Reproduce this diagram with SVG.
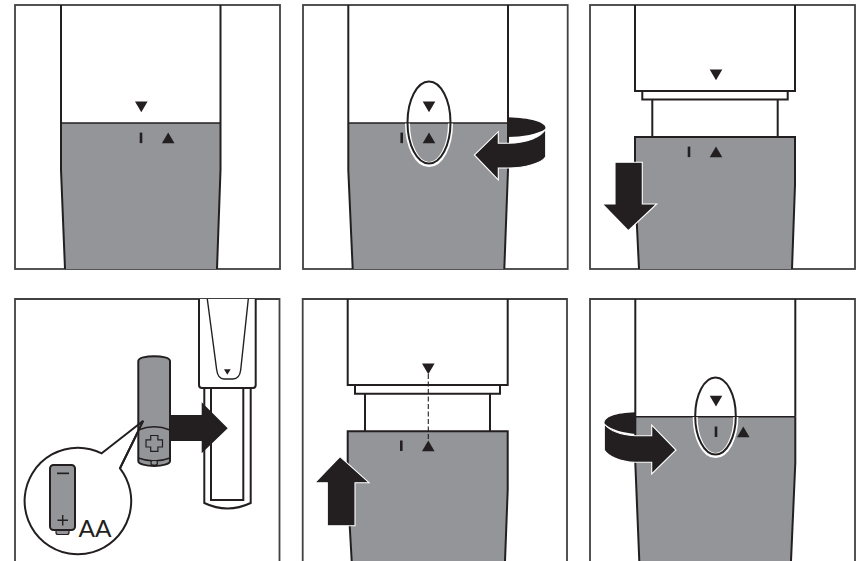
<svg xmlns="http://www.w3.org/2000/svg" width="866" height="561" viewBox="0 0 866 561">
<style>
.frame{fill:#fff;stroke:#414042;stroke-width:1.8}
.open{fill:none;stroke:#414042;stroke-width:1.8}
.line{fill:none;stroke:#231f20;stroke-width:2}
.thin{fill:none;stroke:#231f20;stroke-width:1.4}
.body{fill:#939598;stroke:#231f20;stroke-width:2}
.flat{fill:#939598}
.ink{fill:#231f20}
.halo{fill:#231f20;stroke:#fff;stroke-width:1.1}
.oval{fill:none;stroke:#231f20;stroke-width:2}
.ovalw{fill:none;stroke:#fff;stroke-width:5}
.aa{font-family:"Lato","Liberation Sans",sans-serif;font-size:24px;fill:#231f20}
</style>
<defs>
<polygon id="td" class="ink" points="-6.300,0 6.300,0 0,10.700"/>
<polygon id="tu" class="ink" points="-6.300,10.700 6.300,10.700 0,0"/>
<rect id="bar" class="ink" x="-1.300" y="0" width="2.600" height="10.500"/>
</defs>

<g id="panel-1">
<rect class="frame" x="15" y="5" width="265" height="264"/>
<path class="line" d="M61 5V123M220.500 5V123"/>
<path class="flat" d="M61 123H220.500V170L217 269H65L61 170Z"/>
<path class="thin" d="M61 123H220.500"/>
<path class="line" d="M61 123V170L65 269M220.500 123V170L217 269"/>
<use href="#td" x="141.300" y="101.500"/><use href="#bar" x="141" y="132.600"/><use href="#tu" x="168.200" y="132.600"/>
</g>

<g id="panel-2">
<rect class="frame" x="303" y="5" width="264.700" height="264"/>
<path class="line" d="M348.300 5V123M508 5V123"/>
<path class="flat" d="M348.300 123H508V170L504.300 269H352.700L348.300 170Z"/>
<path class="thin" d="M348.300 123H508"/>
<path class="line" d="M348.300 123V170L352.700 269M508 123V170L504.300 269"/>
<use href="#td" x="429" y="101.500"/><use href="#bar" x="401.700" y="132.600"/><use href="#tu" x="429" y="132.600"/>
<path class="ovalw" d="M407.500 123.500A21.500 41 0 0 0 450.500 123.500"/>
<ellipse class="oval" cx="429" cy="122.500" rx="21.500" ry="41"/>
</g>

<g id="panel-3">
<rect class="frame" x="590" y="5" width="265" height="264"/>
<path class="line" d="M635 5V91H642.300V99.500H787.700V91H795V5M642.300 91H787.700M652.300 99.500V137M777.700 99.500V137"/>
<path class="flat" d="M635 137H795V185L792 269H639L635 185Z"/>
<path class="line" d="M639 269L635 185V137H795V185L792 269"/>
<use href="#td" x="716" y="69.500"/><use href="#bar" x="689" y="146.600"/><use href="#tu" x="716" y="146.600"/>
</g>

<g id="panel-4">
<path class="open" d="M15 561V299H279.500V561"/>
<path class="line" d="M204.300 388V503Q227.500 514 250.700 503V388M211 388V500H243.300V388"/>
<path class="line" style="fill:#fff" d="M199 299V385Q199 388 202 388H252.700Q255.700 388 255.700 385V299"/>
<path class="thin" d="M207.300 299L216.700 370Q218 379 224 379H233Q239.500 379 240.700 370L248.300 299"/>
<polygon class="ink" points="224,369.300 230.700,369.300 227.300,374.700"/>
<polygon class="ink" points="168,415 201.700,415 201.700,402.300 227.700,428.300 201.700,453.300 201.700,441 168,441"/>
<path class="line" style="fill:#fff" d="M101.700 453.300L143.300 420.700L120 468.300A53.300 53.300 0 1 1 101.700 453.300Z"/>
<path class="body" d="M138.300 361C138.300 354.500 170 354.500 170 361V461C170 467.500 138.300 467.500 138.300 461Z"/>
<path class="thin" d="M138.300 430Q154.200 423.500 170 430M138.300 458Q154.200 464 170 458"/>
<path class="thin" style="stroke-width:1.200" d="M150.700 435.500H157.900V439.800H162.500V447H157.900V451.300H150.700V447H146V439.800H150.700Z"/>
<rect class="body" style="stroke-width:1.200" x="151" y="460.500" width="6.400" height="4.500" rx="2"/>
<path class="line" d="M120 468.300L143.300 420.700L138.300 424.600"/>
<rect class="body" style="stroke-width:1.200" x="56" y="529" width="13" height="5.500" rx="2"/>
<rect class="body" x="50" y="465" width="25" height="65" rx="3.500"/>
<rect class="ink" x="57" y="472.500" width="12" height="1.700"/>
<path class="thin" d="M62.700 515V525.500M57.500 520.200H68"/>
<text class="aa" x="78.500" y="536.500" textLength="33" lengthAdjust="spacingAndGlyphs">AA</text>
</g>

<g id="panel-5">
<path class="open" d="M302.700 561V299H567V561"/>
<path class="line" d="M347.700 299V385H355V393.700H500V385H507.700V299M355 385H500M365 393.700V431.300M490 393.700V431.300"/>
<path class="flat" d="M347.700 431.300H507.700V490L505 561H351.700L347.700 490Z"/>
<path class="line" d="M351.700 561L347.700 490V431.300H507.700V490L505 561"/>
<use href="#td" x="428.300" y="363.500"/><use href="#bar" x="401.300" y="440.500"/><use href="#tu" x="428.300" y="440.500"/>
<path class="thin" style="stroke-width:1.100;stroke-dasharray:5 2.500" d="M428.300 374V441"/>
</g>

<g id="panel-6">
<path class="open" d="M590 561V299H855V561"/>
<path class="line" d="M635.300 299V416.700M795.300 299V416.700"/>
<path class="flat" d="M635.300 416.700H795.300V463L791 561H639.300L635.300 463Z"/>
<path class="thin" d="M635.300 416.700H795.300"/>
<path class="line" d="M639.300 561L635.300 463V416.700M795.300 416.700V463L791 561"/>
<use href="#td" x="716" y="395.700"/><use href="#bar" x="716" y="426.500"/><use href="#tu" x="743.300" y="426.500"/>
<path class="ovalw" d="M695.200 417A20.300 38.500 0 0 0 735.800 417"/>
<ellipse class="oval" cx="715.500" cy="416" rx="20.300" ry="38.500"/>
</g>

<g id="connectors">
<path class="ink" d="M508 117.300C530 118 546 122 545.700 129C538 134 522 137 508 137Z"/>
<path class="halo" d="M545.700 129V156.700C542 163 525 168 508 168H498.300V180L474.300 155L498.300 131.700V143.300H508C528 143 541 137 545.700 129Z"/>
<path class="ink" d="M635.500 412.300C615 413 604 417 604.300 424C612 430 624 433 635.500 434Z"/>
<path class="halo" d="M604.300 424V450C608 456 620 462 635 462.300H651.700V474L676 450L651.700 425V435.700H635C622 435 610 431 604.300 424Z"/>
<path class="halo" d="M615 162.300H642.300V204H656.700L628.300 230.700L602.300 204H615Z"/>
<path class="halo" d="M340 456.700L369 482.700H355V525.700H327.300V482.700H315Z"/>
</g>
</svg>
